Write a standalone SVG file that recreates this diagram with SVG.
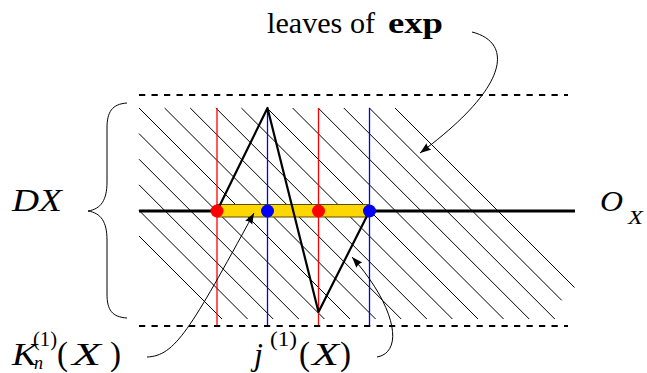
<svg xmlns="http://www.w3.org/2000/svg" width="647" height="373" viewBox="0 0 647 373">
<style>
.hatch{stroke:#000;stroke-width:1;fill:none}
.dash{stroke:#000;stroke-width:2.2;stroke-dasharray:6.25 6.25;fill:none}
.red{stroke:#ff0000;stroke-width:1.3}
.blue{stroke:#0000ff;stroke-width:1.3}
.tri{stroke:#000;stroke-width:2.2;fill:none;stroke-linejoin:round}
.conn{stroke:#000;stroke-width:1;fill:none}
.t{font-family:"Liberation Serif","DejaVu Serif",serif;fill:#000}
.i{font-style:italic}
</style>
<defs>
<marker id="ah" markerUnits="userSpaceOnUse" markerWidth="12" markerHeight="9" refX="11" refY="4" orient="auto">
<path d="M0,0 L11,4 L0,8 Q2,4 0,0 z" fill="#000"/>
</marker>
</defs>
<g id="hatching">
<path class="hatch" d="M139,108L350,319M164.6,108L375.6,319M190.2,108L401.2,319M215.8,108L426.8,319M241.4,108L452.4,319M267,108L478,319M292.6,108L503.6,319M318.2,108L529.2,319M343.8,108L554.8,319M369.4,108L561.7,300.3M395,108L574.5,287.5M139,133.6L324.4,319M139,159.2L298.8,319M139,184.8L273.2,319M139,210.4L247.6,319M139,236L222,319"/>
</g>
<g id="verticals">
<line class="red" x1="217" y1="108" x2="217" y2="326"/>
<line class="blue" x1="267.5" y1="108" x2="267.5" y2="326"/>
<line class="red" x1="318.5" y1="108" x2="318.5" y2="326"/>
<line class="blue" x1="369.5" y1="108" x2="369.5" y2="326"/>
</g>
<g id="bounds">
<line class="dash" x1="139" y1="95" x2="568" y2="95"/>
<line class="dash" x1="139" y1="326" x2="568" y2="326"/>
</g>
<g id="OX-line">
<line x1="139" y1="211" x2="575" y2="211" stroke="#000" stroke-width="3"/>
</g>
<g id="K-bar">
<rect x="217" y="204.5" width="152.5" height="12.5" fill="#ffd700" stroke="#5a4c00" stroke-width="1"/>
</g>
<g id="j-path">
<path class="tri" d="M217,211 L267.5,108 L318.5,312 L369.5,211"/>
</g>
<g id="points">
<circle cx="217" cy="211" r="6.5" fill="#ff0000"/>
<circle cx="267.5" cy="211" r="6.5" fill="#0000ff"/>
<circle cx="318.5" cy="211" r="6.5" fill="#ff0000"/>
<circle cx="369.5" cy="211" r="6.5" fill="#0000ff"/>
</g>
<g id="brace">
<path class="conn" d="M127,103 C112,104 107,112 107,128 L107,182 C107,200 101,209 88,211 C101,213 107,222 107,240 L107,294 C107,310 112,317 127,318"/>
</g>
<g id="connectors">
<path class="conn" d="M472,32 C512,42 512,85 420,153" marker-end="url(#ah)"/>
<path class="conn" d="M147,357 C175,356 190,330 254,213" marker-end="url(#ah)"/>
<path class="conn" d="M377,357 C405,352 395,305 352,257" marker-end="url(#ah)"/>
</g>
<g id="label-leaves">
<text class="t" x="267" y="33" font-size="30" textLength="108" lengthAdjust="spacingAndGlyphs">leaves of</text>
<text class="t" x="388" y="33" font-size="30" font-weight="bold" textLength="55" lengthAdjust="spacingAndGlyphs">exp</text>
</g>
<g id="label-DX">
<text class="t i" x="12" y="211" font-size="31" textLength="50" lengthAdjust="spacingAndGlyphs">DX</text>
</g>
<g id="label-OX">
<text class="t i" x="600" y="211" font-size="29" textLength="23" lengthAdjust="spacingAndGlyphs">O</text>
<text class="t i" x="628" y="224" font-size="19" textLength="15" lengthAdjust="spacingAndGlyphs">X</text>
</g>
<g id="label-K">
<text class="t i" x="12" y="365" font-size="31" textLength="25" lengthAdjust="spacingAndGlyphs">K</text>
<text class="t" x="33" y="346" font-size="20" textLength="24" lengthAdjust="spacingAndGlyphs">(1)</text>
<text class="t i" x="34" y="369" font-size="18">n</text>
<text class="t" x="57" y="365" font-size="33">(</text>
<text class="t i" x="72" y="365" font-size="32" textLength="29" lengthAdjust="spacingAndGlyphs">X</text>
<text class="t" x="110" y="365" font-size="33">)</text>
</g>
<g id="label-j">
<text class="t i" x="254" y="365" font-size="32">j</text>
<text class="t" x="270" y="346" font-size="20" textLength="27" lengthAdjust="spacingAndGlyphs">(1)</text>
<text class="t" x="299" y="365" font-size="33">(</text>
<text class="t i" x="312" y="365" font-size="32" textLength="27" lengthAdjust="spacingAndGlyphs">X</text>
<text class="t" x="340" y="365" font-size="33">)</text>
</g>
</svg>
